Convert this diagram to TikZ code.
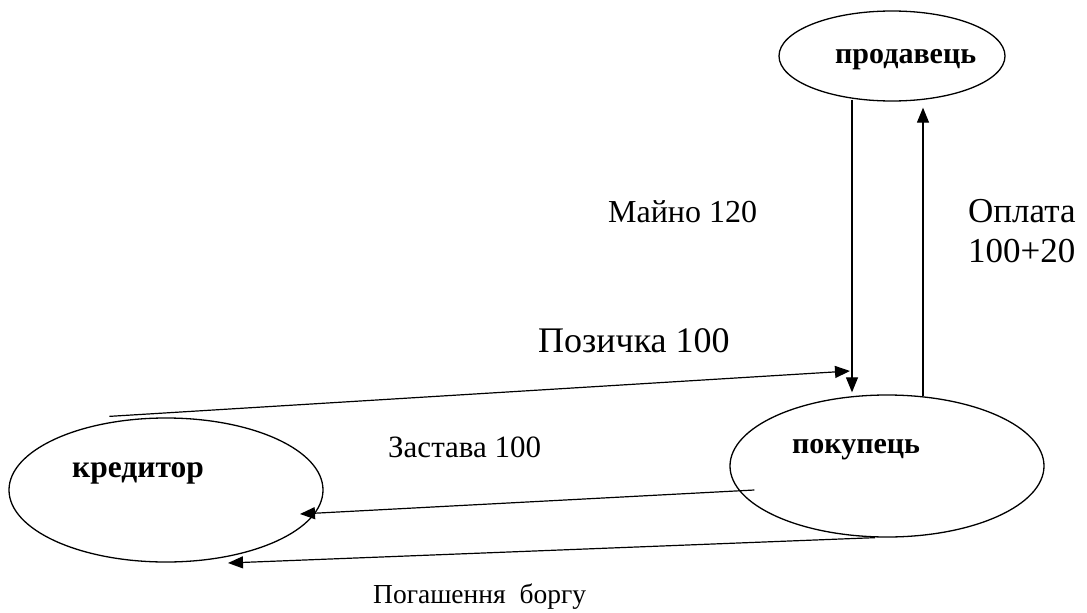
\documentclass[tikz,border=0pt]{standalone}
\usepackage{fontspec}
\setmainfont{Liberation Serif}
\newfontfamily\tnr{Liberation Serif}
\usetikzlibrary{shapes.geometric,arrows.meta}
\begin{document}
\begin{tikzpicture}[x=1pt,y=-1pt,
  ell/.style={draw,ellipse,line width=1.3pt,inner sep=0pt},
  arr/.style={line width=1.2pt,-{Triangle[length=15pt,width=12pt]}},
  big/.style={font=\tnr\fontsize{35}{40}\selectfont,anchor=base west,inner sep=0pt},
  mid/.style={font=\tnr\fontsize{31}{36}\selectfont,anchor=base west,inner sep=0pt},
  lab/.style={font=\tnr\fontsize{30}{36}\selectfont\bfseries,anchor=base west,inner sep=0pt}]
\useasboundingbox (0,0) rectangle (1087,613);
% ellipses
\node[ell,minimum width=226pt,minimum height=90pt] (prod) at (892,56) {};
\node[ell,minimum width=314pt,minimum height=144pt] (kred) at (166,490) {};
\node[ell,minimum width=314pt,minimum height=142pt] (pok) at (887,466) {};
% labels in ellipses
\node[lab] (prodt) at (835,63) {продавець};
\node[lab,font=\tnr\fontsize{31.5}{36}\selectfont\bfseries] (kredt) at (72,477) {кредитор};
\node[lab] (pokt) at (792,453) {покупець};
% helper coordinates
\coordinate (maino) at (852,0);
\coordinate (oplata) at (923,0);
\coordinate (hit) at (850,371);
% connectors
\draw[arr] ([yshift=2pt]prod.south -| maino) -- ([yshift=2pt]pok.north -| maino);
\draw[arr] ([yshift=-2pt]pok.north -| oplata) -- ([yshift=-6pt]prod.south -| oplata);
\draw[arr] ([xshift=-5pt,yshift=5pt]kred.127) -- (hit);
\draw[arr] ([xshift=25pt]pok.west |- 0,490) -- (300,514);
\draw[arr] ([xshift=-12pt]pok.south) -- (228,563);
% texts
\node[font=\tnr\fontsize{32}{40}\selectfont,anchor=base west,inner sep=0pt] (t1) at (608,222) {Майно 120};
\node[big] (t2) at (968,222) {Оплата};
\node[big] (t3) at (968,262) {100+20};
\node[big,font=\tnr\fontsize{36}{40}\selectfont] (t4) at (538,352) {Позичка 100};
\node[mid] (t5) at (388,457) {Застава 100};
\node[font=\tnr\fontsize{27.5}{32}\selectfont,anchor=base west,inner sep=0pt] (t6) at (373,603) {Погашення\ \ боргу};
\end{tikzpicture}
\end{document}
